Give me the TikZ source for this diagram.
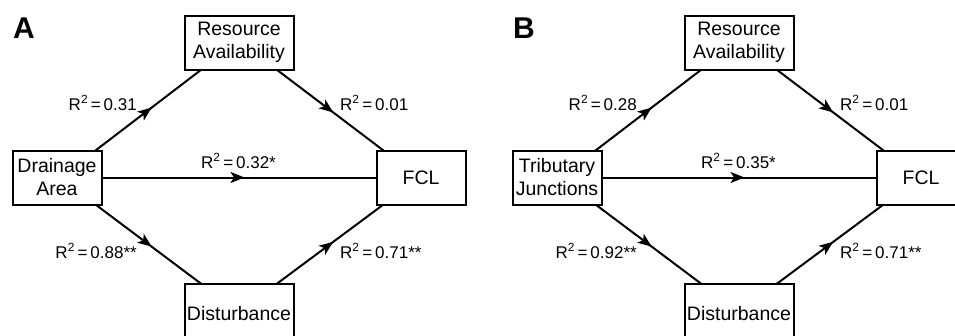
\documentclass[tikz,border=0pt]{standalone}
\usepackage{fontspec}
\setmainfont{Liberation Sans}
\usetikzlibrary{arrows.meta,calc,decorations.markings}
\tikzset{
  box/.style={draw, line width=2pt, outer sep=0pt, inner sep=0pt, align=center,
    font=\fontsize{19.5}{23}\selectfont},
  lbl/.style={inner sep=0pt, font=\fontsize{17}{20}\selectfont},
  panel/.style={inner sep=0pt, font=\fontsize{30}{32}\selectfont\bfseries, anchor=base west},
  conn/.style={line width=2pt, postaction={decorate}, decoration={markings,
    mark=at position #1 with {\arrow{Stealth[length=14pt,width=11pt,inset=3.5pt]}}}},
  conn/.default=0.53
}
\newcommand{\mypanel}[8]{%
  \begin{scope}[xshift=#1pt]
  \node[panel] (let#2) at (13,38) {#2};
  \node[box, minimum width=89pt, minimum height=54pt] (src#2) at (57,177.5) {#3};
  \node[box, minimum width=109pt, minimum height=54pt] (res#2) at (239,42.5) {Resource\\Availability};
  \node[box, minimum width=89pt, minimum height=54pt] (fcl#2) at (421,177.5) {FCL};
  \node[box, minimum width=109pt, text height=36pt, text depth=40pt, anchor=north] (dis#2) at (239,284) {Disturbance};
  \draw[conn=0.53] ($(src#2.north east)+(-6,0)$) -- ($(res#2.south west)+(17,0)$);
  \draw[conn=0.53] ($(res#2.south east)+(-17,0)$) -- ($(fcl#2.north west)+(7,0)$);
  \draw[conn=0.53] ($(src#2.south east)+(-6,0)$) -- ($(dis#2.north west)+(17,0)$);
  \draw[conn=0.53] ($(dis#2.north east)+(-17,0)$) -- ($(fcl#2.south west)+(7,0)$);
  \draw[conn=0.52] (src#2.east) -- (fcl#2.west);
  \node[lbl, anchor=base east] (la#2) at (137,110) {R\textsuperscript{2}\,=\,#4};
  \node[lbl, anchor=base west] (lb#2) at (340,110) {R\textsuperscript{2}\,=\,#5};
  \node[lbl, anchor=base] (lc#2) at (238.5,168) {R\textsuperscript{2}\,=\,#6};
  \node[lbl, anchor=base east] (ld#2) at (137,258) {R\textsuperscript{2}\,=\,#7};
  \node[lbl, anchor=base west] (le#2) at (340,258) {R\textsuperscript{2}\,=\,#8};
  \end{scope}}
\begin{document}
\begin{tikzpicture}[x=1pt,y=-1pt]
\useasboundingbox (0,0) rectangle (955,335);
\clip (0,0) rectangle (955,335);
\mypanel{0}{A}{Drainage\\Area}{0.31}{0.01}{0.32*}{0.88**}{0.71**}
\mypanel{500}{B}{Tributary\\Junctions}{0.28}{0.01}{0.35*}{0.92**}{0.71**}
\end{tikzpicture}
\end{document}
